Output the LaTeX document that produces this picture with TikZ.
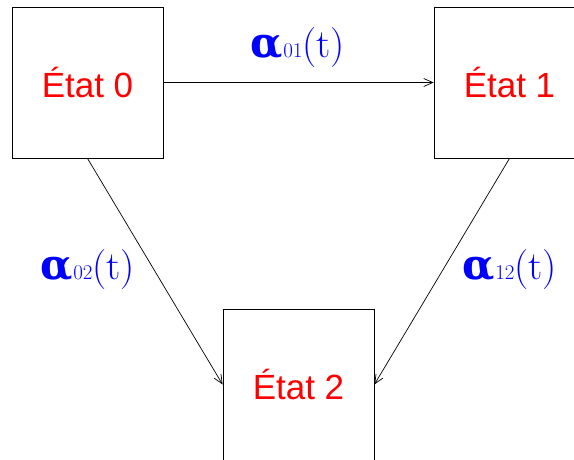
\documentclass[tikz,border=0pt]{standalone}
\usepackage{fontspec}
\newfontfamily\etatfont{Liberation Sans}
\newfontfamily\alphafont{DejaVu Serif}
\usetikzlibrary{arrows.meta,positioning}

\tikzset{
  etat/.style={draw, line width=0.8pt, minimum size=151pt, inner sep=0pt,
    text=red, font=\etatfont\fontsize{35}{35}\selectfont},
  taux/.style={text=blue, inner sep=0pt, font=\rmfamily},
  fleche/.style={line width=0.7pt, -{Straight Barb[length=9pt,width=8pt,line width=0.7pt]}}
}
\newcommand{\tauxlbl}[1]{{\alphafont\fontsize{42}{42}\selectfont\bfseries α}{\fontsize{21}{21}\selectfont #1}{\fontsize{40}{40}\selectfont (t)}}

\begin{document}
\begin{tikzpicture}[x=1pt,y=-1pt]
\useasboundingbox (0,0) rectangle (574,459);

% les trois etats
\node [etat] (e0) at (87.5,82.5) {État 0};
\node [etat] (e1) at (509.5,82.5) {État 1};
\node [etat] (e2) at (298.5,384.5) {État 2};

% transitions
\draw [fleche] (e0.east) -- (e1.west);
\draw [fleche] (e0.south) -- (e2.west);
\draw [fleche] (e1.south) -- (e2.east);

% intensites
\node [taux] (a01) at (298,48) {\tauxlbl{01}};
\node [taux] (a02) at (88,270) {\tauxlbl{02}};
\node [taux] (a12) at (510,270) {\tauxlbl{12}};

\end{tikzpicture}
\end{document}
